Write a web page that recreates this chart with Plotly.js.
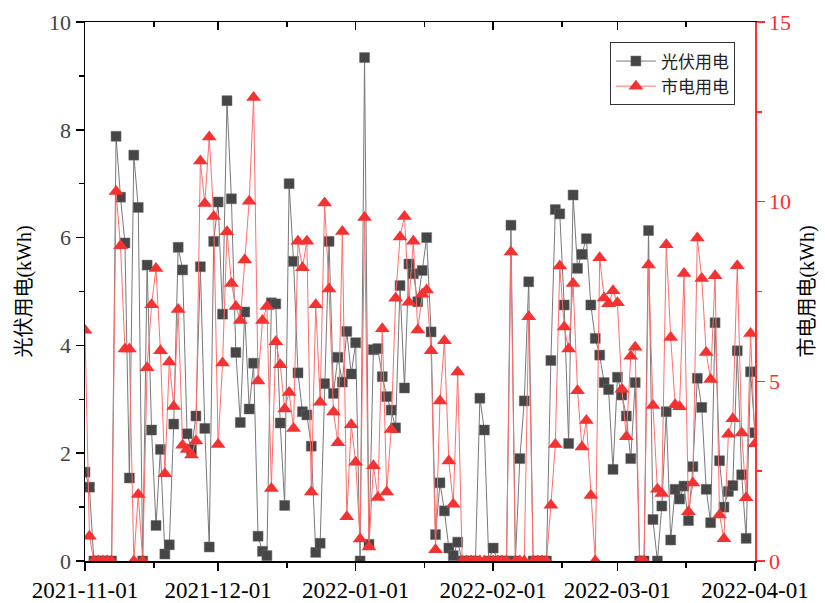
<!DOCTYPE html>
<html>
<head>
<meta charset="utf-8">
<script src="https://cdn.plot.ly/plotly-3.0.1.min.js"></script>
<style>html,body{margin:0;padding:0;background:#fff;}#chart{width:825px;height:603px;}</style>
</head>
<body>
<div id="chart"></div>
<script>
// Daily series, 2021-11-01 .. 2022-04-01
var startDate = '2021-11-01';
var pvUse = [1.65,1.37,0,0,0,0,0,7.88,6.75,5.90,1.54,7.53,6.56,0,5.49,2.43,0.66,2.07,0.13,0.30,
  2.54,5.82,5.40,2.36,2.07,2.69,5.46,2.46,0.26,5.93,6.66,4.58,8.54,6.72,3.87,2.57,4.62,2.82,3.67,0.46,
  0.18,0.10,4.79,4.77,2.56,1.03,7.00,5.56,3.49,2.77,2.71,2.13,0.16,0.33,3.29,5.93,3.11,3.78,3.32,4.26,
  3.47,4.05,0,9.34,0.31,3.92,3.94,3.42,3.05,2.80,2.47,5.11,3.21,5.51,5.33,4.81,5.39,6.00,4.25,0.49,
  1.45,0.93,0.24,0.10,0.35,0,0,0,0,3.02,2.43,0,0.24,0,0,0,6.23,0,1.90,2.97,
  5.18,0,0,0,0,3.72,6.52,6.44,4.75,2.18,6.79,5.43,5.69,5.98,4.75,4.13,3.82,3.31,3.18,1.70,
  3.41,3.08,2.69,1.90,3.31,0,0,6.13,0.77,0,1.02,2.77,0.39,1.33,1.15,1.39,0.75,1.75,3.39,2.85,
  1.33,0.71,4.42,1.86,1.00,1.29,1.40,3.90,1.60,0.42,3.51,2.38];
var gridUse = [6.42,0.69,0,0,0,0,0,10.28,8.77,5.90,5.90,0,1.85,0,5.38,7.13,8.14,5.85,2.43,5.54,
  4.30,7.00,3.22,3.10,2.95,3.34,11.13,9.95,11.80,9.59,3.24,5.51,9.16,7.72,7.08,6.69,8.38,10.01,12.90,5.01,
  6.69,7.08,2.02,6.10,5.46,4.23,4.69,3.69,8.90,8.16,8.90,1.92,7.13,4.42,9.96,7.57,4.15,3.29,9.17,1.23,
  3.79,2.75,0.61,9.56,0.39,2.65,1.77,6.46,1.92,3.66,7.31,9.02,9.59,7.20,8.90,6.43,7.42,7.54,5.85,0.31,
  4.45,6.13,2.78,1.58,5.26,0,0,0,0,0,0,0,0,0,0,0,8.60,0,0,0,
  6.80,0,0,0,0,1.55,3.24,8.21,6.51,5.90,7.72,4.74,3.17,3.91,1.82,0,8.44,7.32,7.16,7.52,
  7.19,4.78,3.46,5.70,5.95,0,0,8.24,4.33,2.00,1.88,8.80,6.22,4.35,4.29,8.00,1.37,2.17,8.99,7.86,
  5.80,5.05,7.94,1.28,0.62,3.53,3.96,8.22,3.56,1.76,6.33,3.26];
var monthTicks = ['2021-11-01','2021-12-01','2022-01-01','2022-02-01','2022-03-01','2022-04-01'];
var minorTicks = ['2021-11-16 12:00','2021-12-16 12:00','2022-01-16 12:00','2022-02-16 12:00','2022-03-16 12:00'];
var seriesNames = ['光伏用电','市电用电'];

var dates = [];
(function(){
  var d0 = new Date(startDate + 'T00:00:00Z');
  for (var i = 0; i < pvUse.length; i++) {
    var d = new Date(d0.getTime() + i * 86400000);
    dates.push(d.toISOString().slice(0,10));
  }
})();

var fontFam = '"Liberation Serif", "Noto Sans CJK SC", serif';
var red = 'rgb(255,45,45)';

var traces = [
  {x: dates, y: pvUse, name: seriesNames[0], type: 'scatter', mode: 'lines+markers',
   line: {color: 'rgb(120,120,120)', width: 1},
   marker: {symbol: 'square', size: 10, color: 'rgb(70,70,70)', line: {color: 'rgb(110,110,110)', width: 0.5}},
   xaxis: 'x', yaxis: 'y'},
  {x: dates, y: gridUse, name: seriesNames[1], type: 'scatter', mode: 'lines+markers',
   line: {color: 'rgb(255,110,110)', width: 1},
   marker: {symbol: 'triangle-up', size: 13, color: 'rgb(245,50,50)', line: {width: 0}},
   xaxis: 'x', yaxis: 'y2'},
  {x: [monthTicks[0]], y: [null], xaxis: 'x2', yaxis: 'y', showlegend: false, hoverinfo: 'skip', mode: 'lines'}
];

var layout = {
  width: 825, height: 603,
  margin: {l: 85, r: 70, t: 22, b: 42},
  paper_bgcolor: '#fff', plot_bgcolor: '#fff',
  font: {family: fontFam, size: 19, color: '#000'},
  showlegend: true,
  legend: {x: 0.97, xanchor: 'right', y: 0.962, yanchor: 'top', bgcolor: '#fff',
           bordercolor: '#333', borderwidth: 1, font: {family: fontFam, size: 17, color: '#222'},
           tracegroupgap: 0, itemwidth: 40},
  xaxis: {type: 'date', range: [monthTicks[0], monthTicks[5]], tickmode: 'array', tickvals: monthTicks,
          ticktext: monthTicks, ticks: 'outside', ticklen: 8, tickwidth: 1.5, tickcolor: '#000',
          showline: true, linecolor: '#000', linewidth: 1.5, showgrid: false, zeroline: false,
          tickfont: {family: fontFam, size: 23, color: '#000'},
          minor: {tickmode: 'array', tickvals: minorTicks, ticks: 'outside', ticklen: 5, tickwidth: 1.5, tickcolor: '#000', showgrid: false}},
  xaxis2: {type: 'date', overlaying: 'x', side: 'top', anchor: 'y', range: [monthTicks[0], monthTicks[5]],
           tickmode: 'array', tickvals: monthTicks, ticks: 'inside', ticklen: 8, tickwidth: 1.5, tickcolor: '#000',
           showticklabels: false, showline: true, linecolor: '#000', linewidth: 1.5, showgrid: false, zeroline: false,
           minor: {tickmode: 'array', tickvals: minorTicks, ticks: 'inside', ticklen: 5, tickwidth: 1.5, tickcolor: '#000', showgrid: false}},
  yaxis: {range: [0, 10], dtick: 2, ticks: 'outside', ticklen: 8, tickwidth: 1.5, tickcolor: '#000',
          showline: true, linecolor: '#000', linewidth: 1.5, showgrid: false, zeroline: false,
          tickfont: {family: fontFam, size: 22, color: '#444'},
          minor: {dtick: 1, ticks: 'outside', ticklen: 5, tickwidth: 1.5, tickcolor: '#000', showgrid: false},
          title: {text: '光伏用电(kWh)', font: {family: fontFam, size: 20, color: '#000'}, standoff: 12}},
  yaxis2: {overlaying: 'y', side: 'right', anchor: 'x', range: [0, 15], dtick: 5, ticks: 'outside', ticklen: 8,
           tickwidth: 1.5, tickcolor: red, showline: true, linecolor: red, linewidth: 1.5,
           showgrid: false, zeroline: false, tickfont: {family: fontFam, size: 22, color: red},
           minor: {dtick: 2.5, ticks: 'outside', ticklen: 5, tickwidth: 1.5, tickcolor: red, showgrid: false},
           title: {text: '市电用电(kWh)', font: {family: fontFam, size: 20, color: '#000'}, standoff: 10}}
};

Plotly.newPlot('chart', traces, layout, {displayModeBar: false, staticPlot: true});
</script>
</body>
</html>
